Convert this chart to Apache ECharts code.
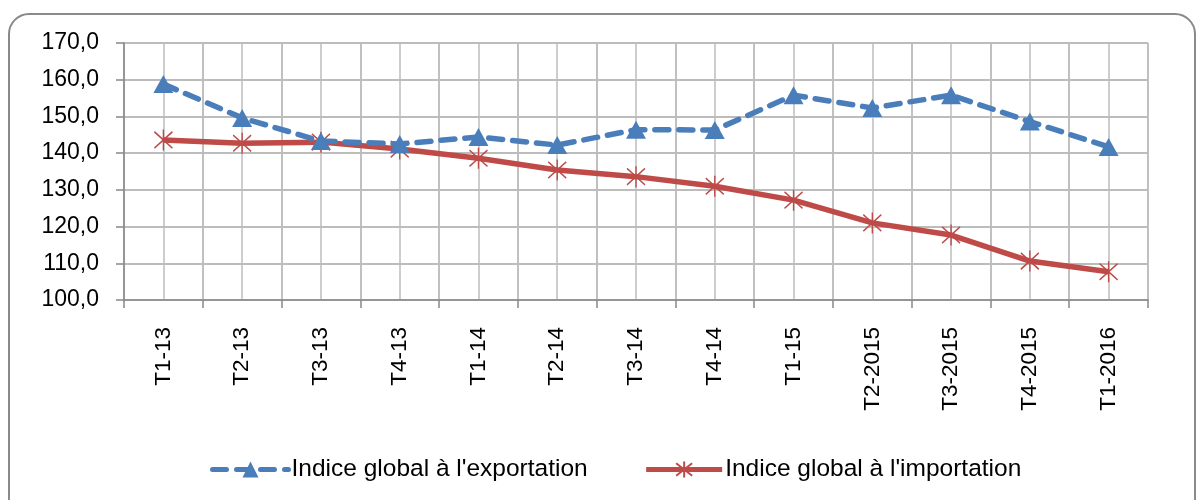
<!DOCTYPE html>
<html>
<head>
<meta charset="utf-8">
<script src="https://cdn.jsdelivr.net/npm/echarts@6/dist/echarts.min.js"></script>
<style>
  html, body { margin: 0; padding: 0; background: #fff; }
  #chart { width: 1198px; height: 500px; }
</style>
</head>
<body>
<div id="chart"></div>
<script>
var categories = ['T1-13', 'T2-13', 'T3-13', 'T4-13', 'T1-14', 'T2-14', 'T3-14', 'T4-14', 'T1-15', 'T2-2015', 'T3-2015', 'T4-2015', 'T1-2016'];
var exportIdx = [158.8, 149.6, 143.3, 142.5, 144.4, 142.2, 146.4, 146.3, 155.8, 152.3, 155.8, 148.6, 141.7];
var importIdx = [143.6, 142.7, 143.0, 141.1, 138.6, 135.4, 133.6, 131.0, 127.2, 121.0, 117.7, 110.6, 107.7];

var font = '"Liberation Sans", sans-serif';
// asterisk marker like Excel's star (X + vertical bar)
var starPath = 'path://M-7,-7L7,7M7,-7L-7,7M0,-9L0,9';

var chart = echarts.init(document.getElementById('chart'));
chart.setOption({
  animation: false,
  graphic: [{
    type: 'rect',
    shape: { x: 9, y: 14, width: 1186, height: 520, r: 20 },
    style: { fill: 'none', stroke: '#8a8a8a', lineWidth: 2 },
    silent: true
  }],
  grid: { left: 124, right: 50, top: 43, bottom: 200 },
  legend: {
    top: 452,
    left: 205,
    itemWidth: 76,
    itemHeight: 20,
    itemGap: 56,
    lineStyle: { width: 5 },
    textStyle: { fontFamily: font, fontSize: 24.5, color: '#000', padding: [0, 0, 0, -2] },
    data: ['Indice global à l\'exportation', 'Indice global à l\'importation']
  },
  xAxis: [{
    type: 'category',
    data: categories,
    boundaryGap: true,
    axisLine: { lineStyle: { color: '#888', width: 1.5 } },
    axisTick: { show: true, length: 8, lineStyle: { color: '#888', width: 1.5 } },
    splitLine: { show: true, lineStyle: { color: '#bdbdbd', width: 1.5 } },
    axisLabel: {
      rotate: 90, margin: 27, interval: 0,
      fontFamily: font, fontSize: 22.5, color: '#000'
    }
  }, {
    // half-band grid: lines at category centres too
    type: 'value',
    min: 0, max: categories.length * 2, interval: 1,
    show: true,
    axisLine: { show: false }, axisTick: { show: false }, axisLabel: { show: false },
    splitLine: { show: true, lineStyle: { color: '#bdbdbd', width: 1.5 } }
  }],
  yAxis: {
    type: 'value',
    min: 100, max: 170, interval: 10,
    axisLine: { show: true, lineStyle: { color: '#888', width: 1.5 } },
    axisTick: { show: true, length: 8, lineStyle: { color: '#888', width: 1.5 } },
    splitLine: { lineStyle: { color: '#a6a6a6', width: 1.5 } },
    axisLabel: {
      margin: 25,
      fontFamily: font, fontSize: 23, color: '#000',
      formatter: function (v) { return v.toFixed(1).replace('.', ','); }
    }
  },
  series: [{
    name: 'Indice global à l\'exportation',
    type: 'line',
    xAxisIndex: 0,
    data: exportIdx,
    symbol: 'triangle',
    symbolSize: [20, 18],
    itemStyle: { color: '#4a7ebb' },
    lineStyle: { color: '#4a7ebb', width: 5.5, type: [14, 10], cap: 'round' },
    z: 3
  }, {
    name: 'Indice global à l\'importation',
    type: 'line',
    xAxisIndex: 0,
    data: importIdx,
    symbol: starPath,
    symbolSize: [18, 21],
    itemStyle: { color: '#be4b48', borderColor: '#be4b48', borderWidth: 1.5 },
    lineStyle: { color: '#be4b48', width: 5.5 },
    z: 2
  }]
});
</script>
</body>
</html>
